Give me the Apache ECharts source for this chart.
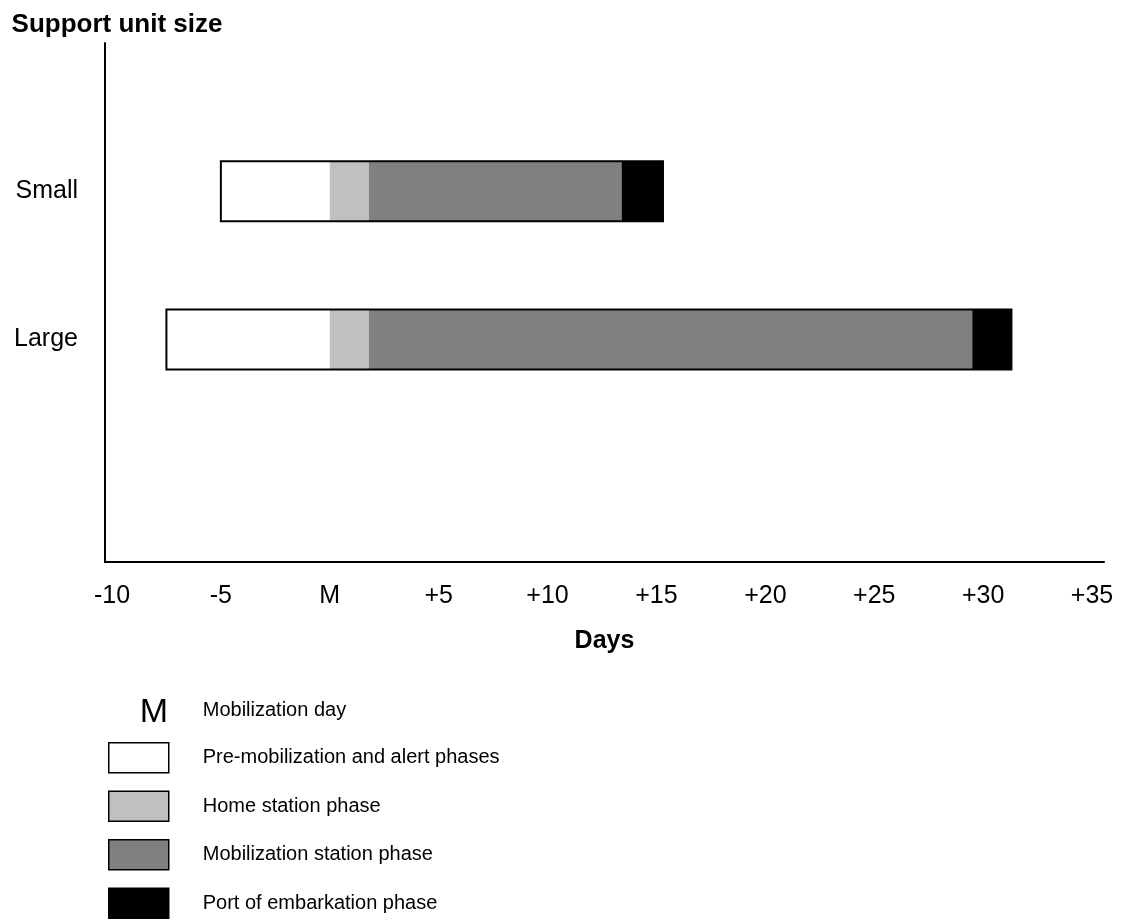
<!DOCTYPE html>
<html>
<head>
<meta charset="utf-8">
<script src="https://cdn.jsdelivr.net/npm/echarts@6/dist/echarts.min.js"></script>
<style>html,body{margin:0;padding:0;background:#fff}#chart{width:1132px;height:922px}</style>
</head>
<body>
<div id="chart"></div>
<script>
// ---- data ----
const categories = ['Small', 'Large'];
const phaseNames = ['Pre-mobilization and alert phases', 'Home station phase', 'Mobilization station phase', 'Port of embarkation phase'];
const phaseColors = ['#ffffff', '#c0c0c0', '#808080', '#000000'];
const preMobStart = [-5, -7.5];
const homeStationStart = [0, 0];
const mobStationStart = [1.8, 1.8];
const portStart = [13.4, 29.5];
const portEnd = [15.3, 31.3];
const dayTicks = [-10, -5, 0, 5, 10, 15, 20, 25, 30, 35];
const dayLabels = ['-10', '-5', 'M', '+5', '+10', '+15', '+20', '+25', '+30', '+35'];
const mDayLabel = 'Mobilization day';

const FONT = '"Liberation Sans", Arial, Helvetica, sans-serif';
const bounds = [preMobStart, homeStationStart, mobStationStart, portStart, portEnd];

function segRender(fillColor) {
  return function (params, api) {
    const s = api.coord([api.value(0), api.value(2)]);
    const e = api.coord([api.value(1), api.value(2)]);
    const h = api.size([0, 1])[1] * 0.405;
    return {
      type: 'rect',
      shape: { x: s[0], y: s[1] - h / 2, width: e[0] - s[0], height: h },
      style: fillColor ? { fill: fillColor, stroke: null } : { fill: 'none', stroke: '#000', lineWidth: 2 }
    };
  };
}

const series = phaseNames.map((name, k) => ({
  type: 'custom',
  name: name,
  itemStyle: { color: phaseColors[k] },
  encode: { x: [0, 1], y: 2 },
  renderItem: segRender(phaseColors[k]),
  data: categories.map((c, i) => [bounds[k][i], bounds[k + 1][i], i]),
  z: 2
}));
// outline of each whole bar
series.push({
  type: 'custom',
  name: 'outline',
  encode: { x: [0, 1], y: 2 },
  renderItem: segRender(null),
  data: categories.map((c, i) => [preMobStart[i], portEnd[i], i]),
  z: 3
});
series.push({ type: 'custom', name: mDayLabel, data: [], renderItem: function () { return null; } });

const chart = echarts.init(document.getElementById('chart'), null, { renderer: 'canvas' });
chart.setOption({
  backgroundColor: '#fff',
  animation: false,
  textStyle: { fontFamily: FONT, color: '#000' },
  grid: { left: 105, right: 28, top: 43, bottom: 360, containLabel: false },
  xAxis: {
    type: 'value',
    min: -10.32,
    max: 35.55,
    name: 'Days',
    nameLocation: 'middle',
    nameGap: 67,
    nameTextStyle: { fontFamily: FONT, fontSize: 25, fontWeight: 'bold', color: '#000' },
    axisLine: { show: true, onZero: false, lineStyle: { color: '#000', width: 2 } },
    axisTick: { show: false },
    splitLine: { show: false },
    axisLabel: {
      customValues: dayTicks,
      margin: 22,
      fontFamily: FONT,
      fontSize: 25,
      color: '#000',
      formatter: function (v) { const i = dayTicks.indexOf(v); return i >= 0 ? dayLabels[i] : ''; }
    }
  },
  yAxis: {
    type: 'value',
    inverse: true,
    min: -1,
    max: 2.5,
    name: 'Support unit size',
    nameLocation: 'start',
    nameGap: 5,
    nameTextStyle: { fontFamily: FONT, fontSize: 26, fontWeight: 'bold', color: '#000', align: 'center', padding: [0, 0, 0, 24] },
    axisLine: { show: true, onZero: false, lineStyle: { color: '#000', width: 2 } },
    axisTick: { show: false },
    splitLine: { show: false },
    axisLabel: {
      customValues: categories.map((c, i) => i),
      margin: 27,
      fontFamily: FONT,
      fontSize: 25,
      color: '#000',
      formatter: function (v) { return categories[v] !== undefined ? categories[v] : ''; }
    }
  },
  legend: {
    orient: 'vertical',
    left: 108,
    top: 695,
    height: 260,
    padding: 0,
    itemWidth: 60,
    itemHeight: 30,
    itemGap: 17,
    selectedMode: false,
    icon: 'rect',
    itemStyle: { borderColor: '#000', borderWidth: 1.5 },
    textStyle: { fontFamily: FONT, fontSize: 20, color: '#000', lineHeight: 18, padding: [12, 0, 0, 29] },
    data: [{ name: mDayLabel, icon: 'none' }].concat(phaseNames.map(n => ({ name: n })))
  },
  graphic: [{
    type: 'text',
    right: 1132 - 168,
    top: 696,
    style: { text: 'M', fontFamily: FONT, fontSize: 34, fill: '#000' }
  }],
  series: series
});
</script>
</body>
</html>
